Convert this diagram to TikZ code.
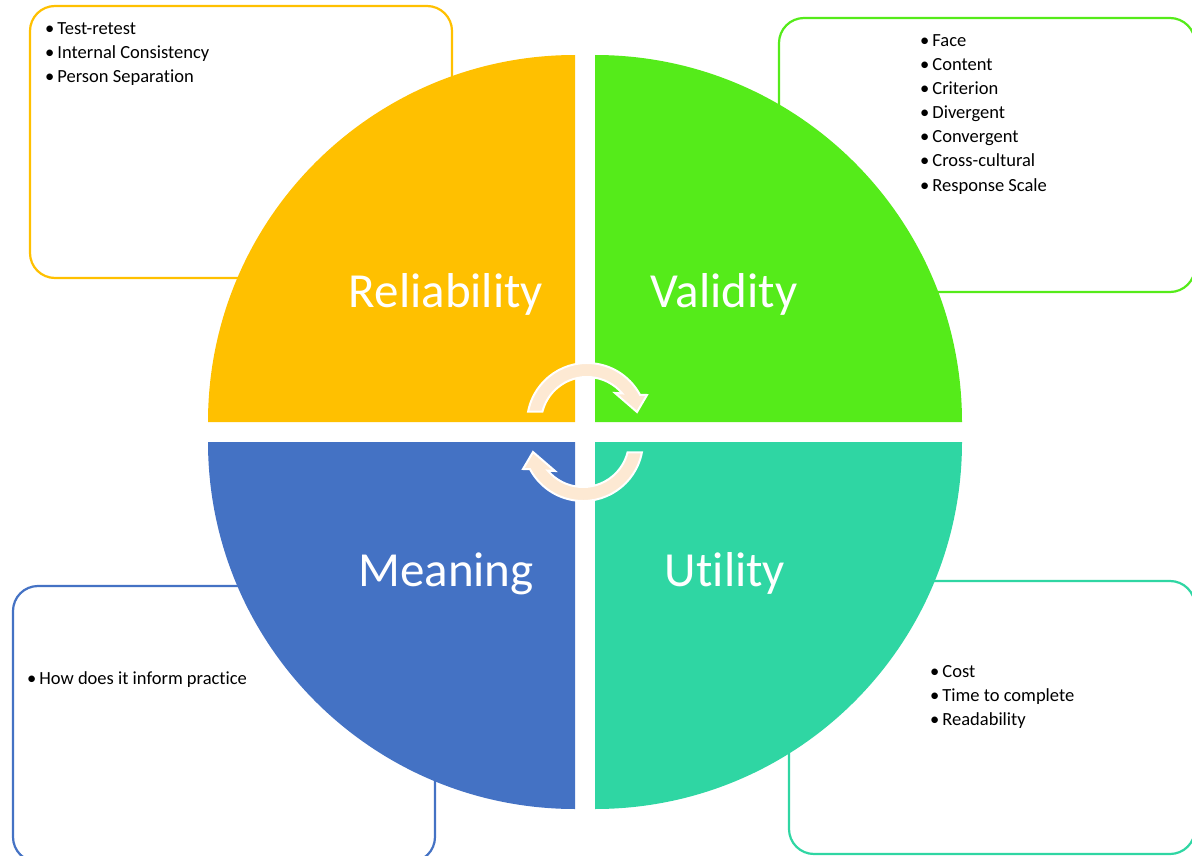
\documentclass[tikz,border=0pt]{standalone}
\usepackage{fontspec}
\setmainfont{Carlito}[Ligatures=NoCommon]
\usetikzlibrary{positioning}
\definecolor{relcol}{HTML}{FFC000}
\definecolor{valcol}{HTML}{55EB1A}
\definecolor{meancol}{HTML}{4472C4}
\definecolor{utilcol}{HTML}{2FD6A3}
\definecolor{arrowcol}{HTML}{FDE9D3}

\begin{document}
\begin{tikzpicture}[x=1pt, y=1pt,
    listbox/.style={draw=#1, line width=2.2pt, rounded corners=25pt, fill=white},
    listtext/.style={anchor=base west, inner sep=0pt, font=\fontsize{18.5}{24}\selectfont},
    quadlabel/.style={anchor=base, inner sep=0pt, text=white, font=\fontsize{49}{58}\selectfont},
    cyclearrow/.style={fill=arrowcol, draw=white, line width=2pt}]
    \useasboundingbox (0,0) rectangle (1192,-856);
    \clip (0,0) rectangle (1192,-856);

    % boxes behind the circle
    \draw[listbox=relcol]  (30,-6)   rectangle (452,-278);
    \draw[listbox=valcol]  (779,-18) rectangle (1195,-292);
    \draw[listbox=meancol] (13,-586) rectangle (435,-862);
    \draw[listbox=utilcol] (789,-581) rectangle (1195,-854);

    % four quarters
    \foreach \cx/\cy/\a/\col in {575/-422/90/relcol, 595/-422/0/valcol,
                                 575/-442/180/meancol, 595/-442/270/utilcol}{
        \fill[\col] (\cx,\cy) -- ++(\a:367) arc[start angle=\a, delta angle=90, radius=367] -- cycle;
    }

    \node[quadlabel] (rel)  at (446,-307) {Reliability};
    \node[quadlabel] (val)  at (724,-307) {Validity};
    \node[quadlabel] (mean) at (446,-586) {Meaning};
    \node[quadlabel] (util) at (725,-586) {Utility};

    % lists
    \foreach \item [count=\i] in {Test-retest, Internal Consistency, Person Separation}
        \node[listtext] (rel\i) at (45,{-11-24*\i}) {•\hspace{3pt}\item};
    \foreach \item [count=\i] in {Face, Content, Criterion, Divergent, Convergent,
                                  Cross-cultural, Response Scale}
        \node[listtext] (val\i) at (920,{-23-24*\i}) {•\hspace{3pt}\item};
    \node[listtext] (mean1) at (27,-684) {•\hspace{3pt}How does it inform practice};
    \foreach \item [count=\i] in {Cost, Time to complete, Readability}
        \node[listtext] (util\i) at (930,{-653-24*\i}) {•\hspace{3pt}\item};

    % cycle arrows in the middle
    \foreach \r in {0,180}
        \draw[cyclearrow, shift={(585,-432)}, rotate=\r, shift={(2,9)}]
            (165.8:46) -- (169.1:60) arc[start angle=169.1, end angle=28, radius=60]
            -- (60,28) -- (50,11) -- (28,30) -- (40:46)
            arc[start angle=40, end angle=165.8, radius=46] -- cycle;
\end{tikzpicture}
\end{document}
